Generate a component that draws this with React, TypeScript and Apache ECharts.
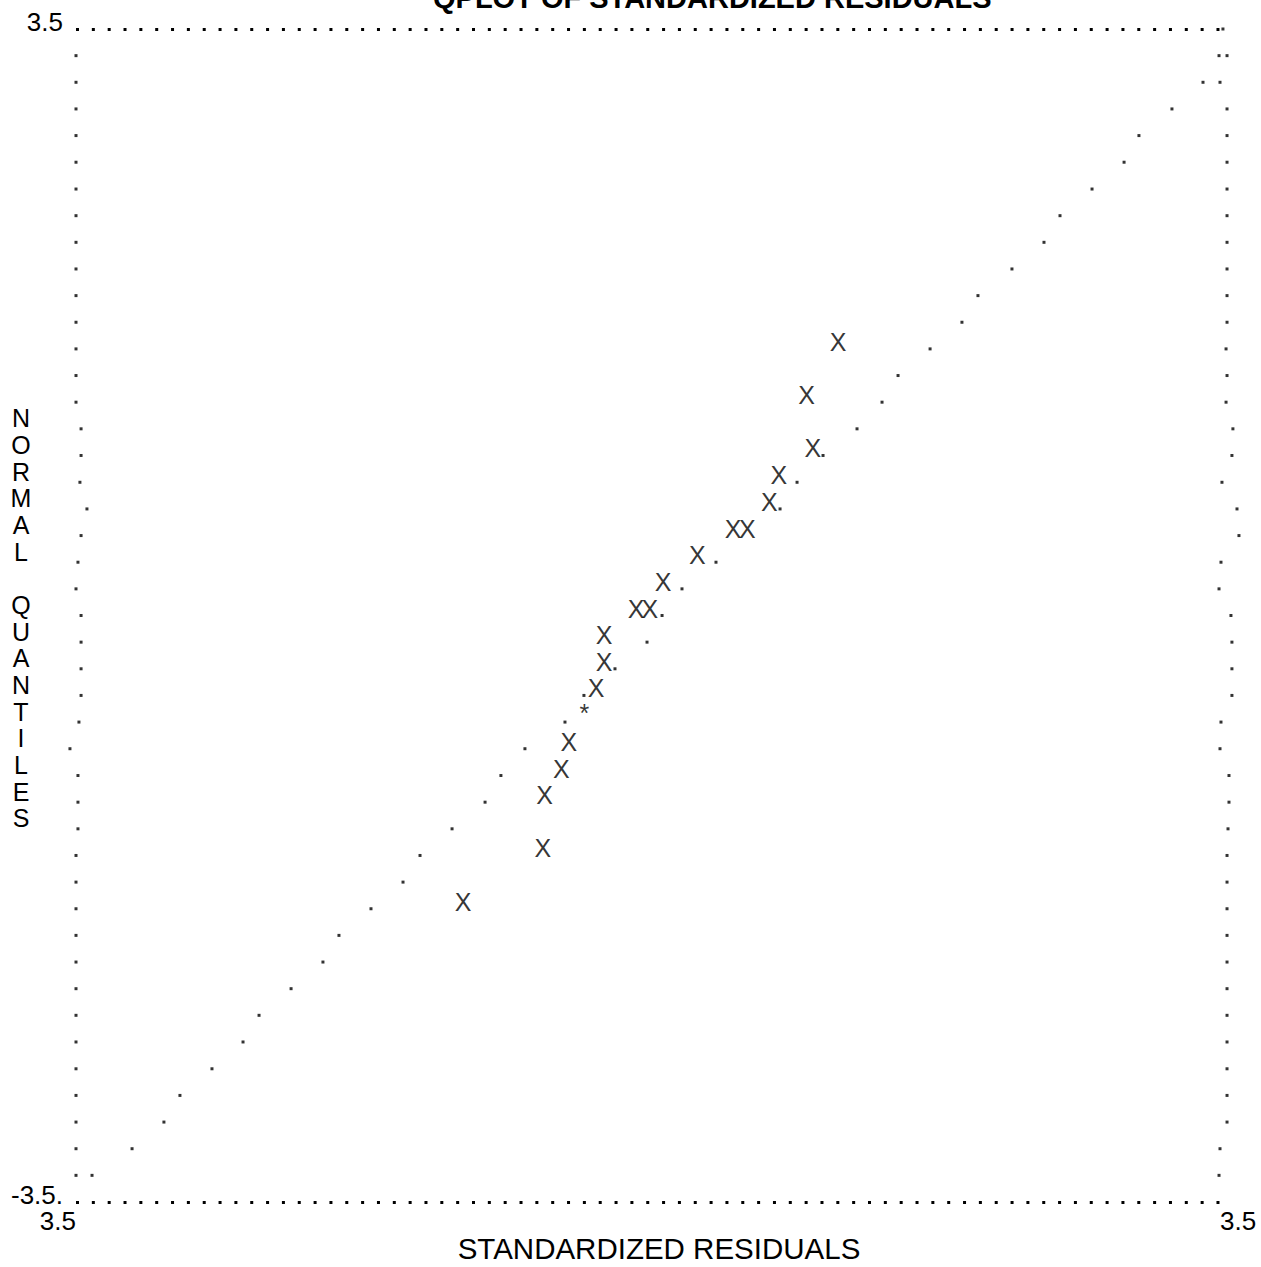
import React, { useEffect, useRef } from "react";
import * as echarts from "echarts";

// Normal quantile value of each printed row (row 0 = top frame, row 44 = bottom frame)
const rowQuantiles = [
  3.5, 3.341, 3.182, 3.023, 2.864, 2.705, 2.545, 2.386, 2.227, 2.068, 1.909,
  1.75, 1.591, 1.432, 1.273, 1.114, 0.955, 0.795, 0.636, 0.477, 0.318, 0.159,
  0, -0.159, -0.318, -0.477, -0.636, -0.795, -0.955, -1.114, -1.273, -1.432,
  -1.591, -1.75, -1.909, -2.068, -2.227, -2.386, -2.545, -2.705, -2.864,
  -3.023, -3.182, -3.341, -3.5,
];

// Reference-line dots, one per row (rows 0..43), null where hidden
const referenceX = [
  3.518, 3.494, 3.396, 3.206, 3.004, 2.913, 2.717, 2.521, 2.423, 2.227, 2.019,
  1.921, 1.726, 1.53, 1.432, 1.279, 1.071, 0.912, 0.808, null, 0.416, 0.208,
  0.086, -0.006, -0.202, -0.392, -0.508, -0.753, -0.9, -0.997, -1.199, -1.395,
  -1.499, -1.695, -1.891, -1.989, -2.184, -2.38, -2.478, -2.668, -2.864,
  -2.962, -3.157, -3.402,
];

// Left and right frame dots for rows 1..43
const leftFrameX = [
  -3.5, -3.5, -3.5, -3.5, -3.5, -3.5, -3.5, -3.5, -3.5, -3.5, -3.5, -3.5, -3.5,
  -3.5, -3.469, -3.469, -3.476, -3.433, -3.469, -3.488, -3.5, -3.469, -3.469,
  -3.469, -3.469, -3.482, -3.537, -3.488, -3.488, -3.488, -3.5, -3.5, -3.5,
  -3.5, -3.5, -3.5, -3.5, -3.5, -3.5, -3.5, -3.5, -3.5, -3.5,
];
const rightFrameX = [
  3.543, 3.5, 3.543, 3.543, 3.543, 3.543, 3.543, 3.543, 3.543, 3.543, 3.543,
  3.537, 3.543, 3.537, 3.579, 3.573, 3.512, 3.604, 3.616, 3.506, 3.494, 3.567,
  3.573, 3.573, 3.573, 3.506, 3.5, 3.555, 3.555, 3.549, 3.543, 3.543, 3.543,
  3.543, 3.543, 3.543, 3.543, 3.543, 3.543, 3.543, 3.543, 3.5, 3.494,
];

// Standardized residual (x) vs normal quantile (y)
const residualPoints = [
  [1.163, 1.591], [0.971, 1.273], [1.008, 0.955], [0.8, 0.795], [0.743, 0.636],
  [0.52, 0.477], [0.608, 0.477], [0.302, 0.318], [0.092, 0.159], [-0.073, 0],
  [0.012, 0], [-0.269, -0.159], [-0.269, -0.318], [-0.318, -0.477],
  [-0.485, -0.795], [-0.531, -0.955], [-0.633, -1.114], [-0.644, -1.432],
  [-1.132, -1.75],
];
// Point coinciding with the reference line
const coincidentPoints = [[-0.39, -0.636]];

const xTickLabels = ["3.5", "3.5"];
const yTickLabels = ["-3.5.", "3.5"];
const titleText = "QPLOT OF STANDARDIZED RESIDUALS";
const xTitle = "STANDARDIZED RESIDUALS";
const yTitleLetters = ["N", "O", "R", "M", "A", "L", "", "Q", "U", "A", "N", "T", "I", "L", "E", "S"];

const FONT = "'Liberation Sans', Arial, Helvetica, sans-serif";

export default function App() {
  const ref = useRef<HTMLDivElement>(null);

  useEffect(() => {
    if (!ref.current) return;
    const chart = echarts.init(ref.current, null, { renderer: "svg" });

    const refData = referenceX
      .map((x, i) => (x === null ? null : [x, rowQuantiles[i]]))
      .filter((d) => d !== null);
    const leftData = leftFrameX.map((x, i) => [x, rowQuantiles[i + 1]]);
    const rightData = rightFrameX.map((x, i) => [x, rowQuantiles[i + 1]]);

    const dotSeries = (name: string, data: any[]) => ({
      type: "scatter",
      name,
      data,
      symbol: "rect",
      symbolSize: 3,
      itemStyle: { color: "#000" },
      clip: false,
      silent: true,
    });

    const textSeries = (name: string, data: any[], ch: string, off: number) => ({
      type: "scatter",
      name,
      data,
      symbol: "circle",
      symbolSize: 2,
      itemStyle: { color: "rgba(0,0,0,0)" },
      clip: false,
      silent: true,
      label: {
        show: true,
        formatter: ch,
        position: "inside",
        offset: [0, off],
        fontSize: 25,
        fontFamily: FONT,
        color: "#000",
      },
    });

    const frameLine = {
      show: true,
      onZero: false,
      lineStyle: { color: "#000", width: 3, type: [3, 12.84], cap: "butt" },
    };

    chart.setOption({
      animation: false,
      backgroundColor: "#fff",
      title: {
        text: titleText,
        left: 433,
        top: -17,
        padding: 0,
        textStyle: { fontSize: 29, fontWeight: "bold", fontFamily: FONT, color: "#000" },
      },
      grid: {
        left: 76,
        right: 41,
        top: 29,
        bottom: 65,
        containLabel: false,
        outerBoundsMode: "none",
      },
      graphic: [
        {
          type: "text",
          x: 21,
          y: 405,
          silent: true,
          style: {
            text: yTitleLetters.join("\n"),
            fontSize: 25,
            lineHeight: 26.66,
            fontFamily: FONT,
            fill: "#000",
            align: "center",
            verticalAlign: "top",
          },
        },
      ],
      xAxis: [
        {
          type: "value",
          min: -3.5,
          max: 3.5,
          interval: 7,
          position: "bottom",
          name: xTitle,
          nameLocation: "middle",
          nameGap: 31,
          nameMoveOverlap: false,
          nameTextStyle: {
            fontSize: 29.5,
            lineHeight: 30,
            fontFamily: FONT,
            color: "#000",
            padding: [0, 0, 0, 22],
          },
          axisLine: frameLine,
          axisTick: { show: false },
          splitLine: { show: false },
          axisLabel: {
            margin: 6,
            fontSize: 26,
            fontFamily: FONT,
            color: "#000",
            alignMinLabel: "right",
            alignMaxLabel: "left",
            formatter: (_v: number, i: number) => xTickLabels[i],
          },
        },
        {
          type: "value",
          min: -3.5,
          max: 3.5,
          interval: 7,
          position: "top",
          axisLine: frameLine,
          axisTick: { show: false },
          splitLine: { show: false },
          axisLabel: { show: false },
        },
      ],
      yAxis: {
        type: "value",
        min: -3.5,
        max: 3.5,
        interval: 7,
        axisLine: { show: false },
        axisTick: { show: false },
        splitLine: { show: false },
        axisLabel: {
          margin: 13,
          fontSize: 26,
          lineHeight: 14,
          verticalAlign: "bottom",
          fontFamily: FONT,
          color: "#000",
          formatter: (_v: number, i: number) => yTickLabels[i],
        },
      },
      series: [
        dotSeries("Reference line", refData),
        dotSeries("Left frame", leftData),
        dotSeries("Right frame", rightData),
        textSeries("Residuals", residualPoints, "X", -7),
        textSeries("Coincident", coincidentPoints, "*", -9),
      ],
    });

    return () => chart.dispose();
  }, []);

  return (
    <div
      ref={ref}
      style={{ position: "fixed", left: 0, top: 0, width: 1261, height: 1267, background: "#fff" }}
    />
  );
}
